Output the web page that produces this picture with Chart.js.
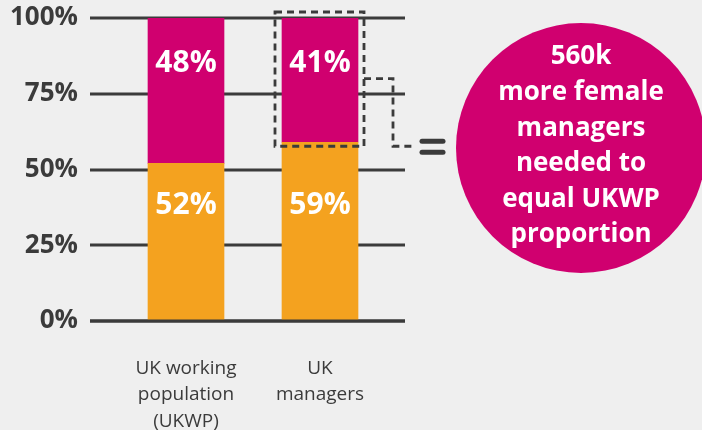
<!DOCTYPE html>
<html>
<head>
<meta charset="utf-8">
<style>
  html, body { margin: 0; padding: 0; background: #efefef; }
  #wrap { width: 702px; height: 430px; }
</style>
<script src="https://cdn.jsdelivr.net/npm/chart.js@4.4.1/dist/chart.umd.min.js"></script>
</head>
<body>
<div id="wrap"><canvas id="chart" width="702" height="430"></canvas></div>
<script>
const categories = [['UK working', 'population', '(UKWP)'], ['UK', 'managers']];
const otherShare = [52, 59];
const femaleShare = [48, 41];
const yTicks = [0, 25, 50, 75, 100];
const circleLines = ['560k', 'more female', 'managers', 'needed to', 'equal UKWP', 'proportion'];

const magenta = '#d0006f';
const orange = '#f4a21f';
const dark = '#3b3b3b';
const fontFamily = "'Open Sans', sans-serif";

// where the white value labels sit on the value axis (bottom set, top set)
const labelAt = [38, 85];

const gridPlugin = {
    id: 'grid',
    beforeDatasetsDraw(chart) {
        const { ctx, chartArea, scales } = chart;
        ctx.save();
        ctx.strokeStyle = dark;
        ctx.lineWidth = 3;
        yTicks.forEach(t => {
            const y = Math.round(scales.y.getPixelForValue(t));
            ctx.beginPath();
            ctx.moveTo(chartArea.left - 29, y);
            ctx.lineTo(chartArea.right + 18, y);
            ctx.stroke();
        });
        ctx.restore();
    },
    afterDatasetsDraw(chart) {
        const { ctx, chartArea, scales } = chart;
        ctx.save();
        // baseline over the bars
        const y0 = Math.round(scales.y.getPixelForValue(0));
        ctx.strokeStyle = dark;
        ctx.lineWidth = 3;
        ctx.beginPath();
        ctx.moveTo(chartArea.left - 29, y0);
        ctx.lineTo(chartArea.right + 18, y0);
        ctx.stroke();

        // value labels
        ctx.fillStyle = '#ffffff';
        ctx.font = 'bold 30px ' + fontFamily;
        ctx.textAlign = 'center';
        ctx.textBaseline = 'middle';
        chart.data.datasets.forEach((ds, di) => {
            chart.getDatasetMeta(di).data.forEach((bar, i) => {
                ctx.fillText(ds.data[i] + '%', bar.x, scales.y.getPixelForValue(labelAt[di]));
            });
        });
        ctx.restore();
    },
    afterDraw(chart) {
        const { ctx, scales } = chart;
        const bar = chart.getDatasetMeta(1).data[1];
        const left = bar.x - bar.width / 2 - 7;
        const right = bar.x + bar.width / 2 + 6;
        const top = scales.y.getPixelForValue(100) - 6;
        const bottom = scales.y.getPixelForValue(otherShare[1]) + 4;

        ctx.save();
        ctx.strokeStyle = dark;
        ctx.lineWidth = 2.8;
        ctx.setLineDash([7, 5]);
        ctx.strokeRect(left, top, right - left, bottom - top);

        const midY = scales.y.getPixelForValue(80);
        ctx.beginPath();
        ctx.moveTo(right, midY);
        ctx.lineTo(right + 29, midY);
        ctx.lineTo(right + 29, bottom);
        ctx.lineTo(right + 48, bottom);
        ctx.stroke();
        ctx.setLineDash([]);

        // equals sign
        ctx.lineWidth = 5;
        ctx.lineCap = 'round';
        [bottom - 5, bottom + 6].forEach(y => {
            ctx.beginPath();
            ctx.moveTo(right + 58, y);
            ctx.lineTo(right + 79, y);
            ctx.stroke();
        });

        // circle
        const cx = 581, cy = 148, r = 125;
        ctx.fillStyle = magenta;
        ctx.beginPath();
        ctx.arc(cx, cy, r, 0, Math.PI * 2);
        ctx.fill();

        ctx.fillStyle = '#ffffff';
        ctx.font = 'bold 26px ' + fontFamily;
        ctx.textAlign = 'center';
        ctx.textBaseline = 'middle';
        const lh = 35.6;
        const startY = 57;
        circleLines.forEach((line, i) => {
            ctx.fillText(line, cx, startY + i * lh);
        });
        ctx.restore();
    }
};

new Chart(document.getElementById('chart'), {
    type: 'bar',
    data: {
        labels: categories,
        datasets: [
            { data: otherShare, backgroundColor: orange, barThickness: 76 },
            { data: femaleShare, backgroundColor: magenta, barThickness: 76 }
        ]
    },
    options: {
        responsive: false,
        animation: false,
        devicePixelRatio: 1,
        layout: { padding: { top: 18, right: 315, bottom: 0, left: 0 } },
        plugins: {
            legend: { display: false },
            tooltip: { enabled: false }
        },
        scales: {
            x: {
                stacked: true,
                offset: true,
                grid: { display: false, drawTicks: false },
                border: { display: false },
                ticks: {
                    color: dark,
                    padding: 34,
                    maxRotation: 0,
                    font: { family: fontFamily, size: 19, lineHeight: 1.4 }
                },
                afterFit(scale) {
                    scale.height = 109;
                    scale.paddingLeft = 0;
                    scale.paddingRight = 0;
                }
            },
            y: {
                stacked: true,
                min: 0,
                max: 100,
                grid: { display: false, drawTicks: false },
                border: { display: false },
                afterBuildTicks(scale) { scale.ticks = yTicks.map(v => ({ value: v })); },
                ticks: {
                    color: dark,
                    padding: 41,
                    font: { family: fontFamily, size: 26, weight: 'bold' },
                    callback: v => v + '%'
                },
                afterFit(scale) {
                    scale.width = 119;
                    scale.paddingTop = 0;
                    scale.paddingBottom = 0;
                }
            }
        }
    },
    plugins: [gridPlugin]
});
</script>
</body>
</html>
